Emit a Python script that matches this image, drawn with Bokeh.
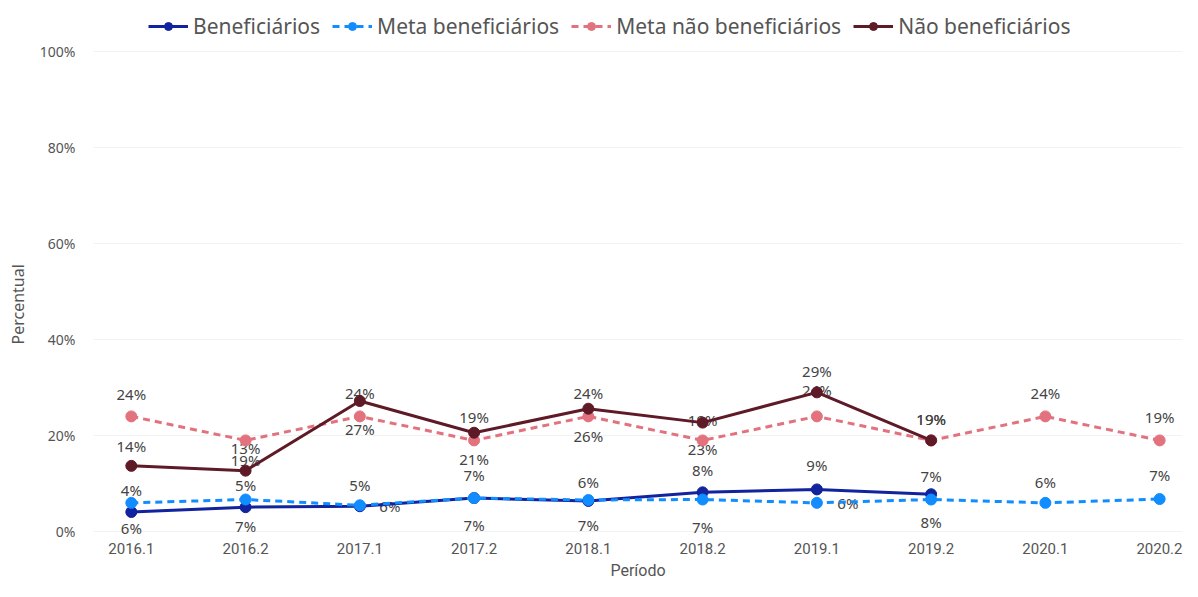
from bokeh.plotting import figure
from bokeh.models import (ColumnDataSource, Range1d, FixedTicker, Legend, LegendItem,
                          PrintfTickFormatter, Title)
from bokeh.embed import file_html
from bokeh.resources import INLINE
from bokeh.core.properties import value

# ---------------- data ----------------
periods = ["2016.1", "2016.2", "2017.1", "2017.2", "2018.1",
           "2018.2", "2019.1", "2019.2", "2020.1", "2020.2"]
beneficiarios = [4.1, 5.1, 5.3, 7.0, 6.4, 8.2, 8.8, 7.8]
meta_beneficiarios = [6.0, 6.7, 5.5, 7.0, 6.6, 6.7, 6.0, 6.7, 6.0, 6.8]
meta_nao_beneficiarios = [24, 19, 24, 19, 24, 19, 24, 19, 24, 19]
nao_beneficiarios = [13.7, 12.7, 27.2, 20.6, 25.6, 22.7, 29.0, 19.0]
y_ticks = [0, 20, 40, 60, 80, 100]
series_names = ["Beneficiários", "Meta beneficiários",
                "Meta não beneficiários", "Não beneficiários"]

# ---------------- label placement (layout, pixels) ----------------
off_benef = [(0, -22), (0, -22), (0, -21), (0, -23), (0, -19), (0, -22), (0, -24), (0, 28)]
off_meta_benef = [(0, 25), (0, 26), (30, 1), (0, 27), (0, 25), (0, 27), (31, 0), (0, -24), (0, -21), (0, -24)]
off_meta_nao = [(0, -22), (0, 20), (0, -23), (0, -23), (0, -23), (0, -20), (0, -26), (0, -21), (0, -23), (0, -23)]
off_nao = [(0, -20), (0, -23), (0, 28), (0, 26), (0, 27), (0, 26), (0, -21), (0, -21)]

colors = ["#12239E", "#118DFF", "#E2737E", "#5F1A28"]
dashes = ["solid", "7 5", "7 5", "solid"]
FONT = "Noto Sans"
AXFONT = "Roboto"
TXT = "#555555"

p = figure(width=1182, height=581, output_backend="svg", toolbar_location=None,
           x_range=Range1d(-0.331, 9.2), y_range=Range1d(-1.0, 110.56),
           min_border_left=87, min_border_right=0, min_border_top=0, min_border_bottom=0,
           background_fill_color="white", border_fill_color="white")
p.outline_line_color = None

# x axis (its title is a below-side Title)
xi = list(range(len(periods)))
p.xaxis.ticker = FixedTicker(ticks=xi)
p.xaxis.major_label_overrides = {i: s for i, s in enumerate(periods)}
p.xaxis.axis_line_color = None
p.xaxis.major_tick_line_color = None
p.xaxis.minor_tick_line_color = None
p.xaxis.major_tick_out = 0
p.xaxis.major_tick_in = 0
p.xaxis.minor_tick_out = 0
p.xaxis.major_label_standoff = 6
p.xaxis.major_label_text_font = AXFONT
p.xaxis.major_label_text_font_size = "15px"
p.xaxis.major_label_text_color = TXT
p.xgrid.grid_line_color = None

xtitle = Title(text="Período", align="center", standoff=4, vertical_align="bottom",
               text_font=AXFONT, text_font_size="16px", text_font_style="normal",
               text_color=TXT)
p.add_layout(xtitle, "below")

# y axis (title drawn as a left-side Title so it can be centred like the original)
p.yaxis.ticker = FixedTicker(ticks=y_ticks)
p.yaxis.formatter = PrintfTickFormatter(format="%d%%")
p.yaxis.axis_line_color = None
p.yaxis.major_tick_line_color = None
p.yaxis.minor_tick_line_color = None
p.yaxis.major_tick_out = 0
p.yaxis.major_tick_in = 0
p.yaxis.minor_tick_out = 0
p.yaxis.major_label_standoff = 18
p.yaxis.major_label_text_font = FONT
p.yaxis.major_label_text_font_size = "14px"
p.yaxis.major_label_text_color = TXT
p.ygrid.grid_line_color = "#f2f2f2"
p.ygrid.grid_line_width = 1

ytitle = Title(text="Percentual", align="left", offset=192, standoff=12,
               vertical_align="top", text_font=FONT, text_font_size="16px",
               text_font_style="normal", text_color=TXT)
p.add_layout(ytitle, "left")

all_series = [beneficiarios, meta_beneficiarios, meta_nao_beneficiarios, nao_beneficiarios]
all_offsets = [off_benef, off_meta_benef, off_meta_nao, off_nao]

# data labels (drawn beneath the lines)
for vals, offs in zip(all_series, all_offsets):
    n = len(vals)
    src = ColumnDataSource(dict(
        x=xi[:n], y=vals,
        t=[f"{int(v + 0.5)}%" for v in vals],
        dx=[o[0] for o in offs[:n]], dy=[o[1] for o in offs[:n]]))
    p.text(x="x", y="y", text="t", x_offset="dx", y_offset="dy", source=src,
           text_align="center", text_baseline="middle",
           text_font=value(FONT), text_font_size="15px", text_color="#444444")

items = []
for name, vals, col, dash in zip(series_names, all_series, colors, dashes):
    n = len(vals)
    src = ColumnDataSource(dict(x=xi[:n], y=vals))
    ln = p.line("x", "y", source=src, line_color=col, line_width=3, line_dash=dash)
    sc = p.scatter("x", "y", source=src, marker="circle", size=11,
                   fill_color=col, line_color=col)
    items.append(LegendItem(label=name, renderers=[ln, sc]))

legend = Legend(items=items, orientation="horizontal", location=(55, 496),
                margin=0, padding=0, spacing=12, label_standoff=5,
                glyph_width=40, glyph_height=20, label_height=20,
                label_text_font=FONT, label_text_font_size="21px",
                label_text_color=TXT,
                border_line_color=None, background_fill_alpha=0)
p.add_layout(legend)

open("out.html", "w").write(file_html(p, INLINE))
